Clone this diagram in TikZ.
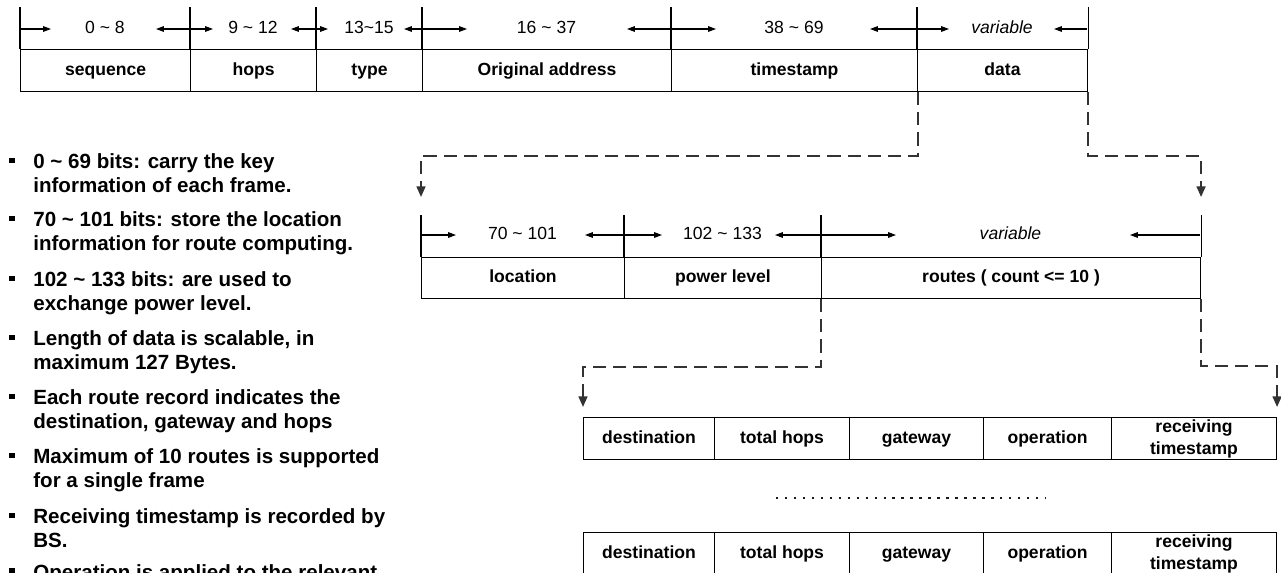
\documentclass[tikz,border=0pt]{standalone}
\usepackage{fontspec}
\setmainfont{Liberation Sans}
\usetikzlibrary{positioning,arrows.meta}
\newcommand{\tld}{\textasciitilde}

\begin{document}
\begin{tikzpicture}[
    x=0.02cm, y=-0.02cm,
    field/.style  ={draw, line width=0.6pt, inner sep=0pt, minimum height=0.84cm,
                    font=\fontsize{10}{12.5}\selectfont\bfseries, align=center},
    oneline/.style={text height=0.72em, text depth=0.2em},
    twoline/.style={},
    hdr/.style    ={font=\fontsize{10}{12}\selectfont, inner sep=0pt,
                    text height=0.72em, text depth=0.2em},
    dimarr/.style ={-{Triangle[length=4.5pt,width=3.2pt]}, line width=0.6pt},
    link/.style   ={-{Triangle[length=6pt,width=5pt]}, line width=1.1pt, black!80,
                    dash pattern=on 7.5pt off 4pt},
    item/.style   ={font=\fontsize{11.7}{14}\selectfont\bfseries, inner sep=0pt, anchor=base west},
    sq/.style     ={fill=black, minimum size=3.4pt, inner sep=0pt},
    dotrow/.style ={line width=1.4pt, dash pattern=on 1.4pt off 3.7pt, black!90}
  ]
  \useasboundingbox (0,0) rectangle (1281,572);

  % --- frame header: bits 0 ~ 69 + data ---
  \foreach \l/\r/\a/\b/\nm/\txt/\num in {
      20/190/31/34/seq/sequence/{0 \tld\ 8},
      190/316/23/25/hop/hops/{9 \tld\ 12},
      316/422/12/18/typ/type/{13\tld15},
      422/671/45/44/org/{Original address}/{16 \tld\ 37},
      671/917/45/47/tst/timestamp/{38 \tld\ 69},
      917/1087/32/33/data/data/{\itshape variable}} {
    \pgfmathsetmacro{\w}{(\r-\l)*0.02}
    \node[field, oneline, minimum width=\w cm, anchor=north west] (\nm) at (\l,49) {\txt};
    \draw[line width=0.6pt] (\nm.north west) -- ++(0,-42);
    \draw[dimarr] (\l,29) -- ++(\a,0);
    \draw[dimarr] (\r,29) -- ++(-\b,0);
    \node[hdr] (\nm h) at ({(\l+\r)/2},29) {\num};
  }
  \draw[line width=0.6pt] (data.north east) -- ++(0,-42);

  % --- data part: location, power, routes ---
  \foreach \l/\r/\a/\b/\nm/\txt/\num in {
      421/624/35/39/loc/location/{70 \tld\ 101},
      624/821/38/46/pwr/power level/{102 \tld\ 133},
      821/1200/75/70/rts/{routes ( count <= 10 )}/{\itshape variable}} {
    \pgfmathsetmacro{\w}{(\r-\l)*0.02}
    \node[field, oneline, minimum width=\w cm, minimum height=0.82cm, anchor=north west] (\nm) at (\l,257) {\txt};
    \draw[line width=0.6pt] (\nm.north west) -- ++(0,-42);
    \draw[dimarr] (\l,235) -- ++(\a,0);
    \draw[dimarr] (\r,235) -- ++(-\b,0);
    \node[hdr] (\nm h) at ({(\l+\r)/2},235) {\num};
  }
  \draw[line width=0.6pt] (rts.north east) -- ++(0,-42);

  % --- route records ---
  \foreach \row/\top in {1/417, 2/532} {
    \foreach \l/\r/\nm/\txt/\st in {
        583/714/dst/destination/oneline,
        714/849/thp/total hops/oneline,
        849/983/gw/gateway/oneline,
        983/1111/op/operation/oneline,
        1111/1276/rcv/{receiving\\timestamp}/twoline} {
      \pgfmathsetmacro{\w}{(\r-\l)*0.02}
      \node[field, \st, minimum width=\w cm, anchor=north west] (\nm\row) at (\l,\top) {\txt};
    }
  }
  \draw[dotrow] (776,498) -- (1046,498);

  % --- expansion links ---
  \draw[link] (tst.south east) -- ++(0,64) -| ([yshift=1.2cm]loc.north west);
  \draw[link] (data.south east) -- ++(0,64) -| ([yshift=1.2cm]rts.north east);
  \draw[link] (rts.south west) -- ++(0,68) -| ([yshift=0.2cm]dst1.north west);
  \draw[link] (rts.south east) -- ++(0,67) -| ([yshift=0.2cm]rcv1.north east);

  % --- notes ---
  \foreach \n/\y/\a/\b in {
      1/168.5/{0 \tld\ 69 bits: carry the key}/{information of each frame.},
      2/226.5/{70 \tld\ 101 bits: store the location}/{information for route computing.},
      3/286.5/{102 \tld\ 133 bits: are used to}/{exchange power level.},
      4/345.5/{Length of data is scalable, in}/{maximum 127 Bytes.},
      5/404.5/{Each route record indicates the}/{destination, gateway and hops},
      6/463.5/{Maximum of 10 routes is supported}/{for a single frame},
      7/523.5/{Receiving timestamp is recorded by}/{BS.}} {
    \node[sq] (sq\n) at (12,\y-8) {};
    \node[item] (it\n) at (33,\y) {\a};
    \node[item] (it\n b) at (33,\y+24.3) {\b};
  }
  \node[sq] (sq8) at (12,571) {};
  \node[item] (it8) at (33,579) {Operation is applied to the relevant};
\end{tikzpicture}
\end{document}
